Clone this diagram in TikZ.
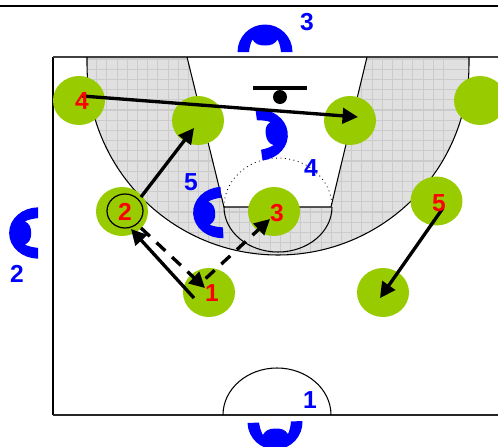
\documentclass[tikz,border=0pt]{standalone}
\usepackage{fontspec}
\setmainfont{Liberation Sans}
\usepackage{xcolor}
\usetikzlibrary{positioning, arrows.meta, shapes.geometric}
\definecolor{Player}{RGB}{153, 204, 0}
\definecolor{Defence}{RGB}{0, 0, 255}
\definecolor{Paint}{RGB}{224, 224, 224}
\definecolor{PaintGrid}{RGB}{203, 203, 203}
\tikzset{
    player/.style={ellipse, fill=Player, minimum width=1.04cm, minimum height=0.98cm, inner sep=0},
    redlabel/.style={text=red, inner sep=0, font=\fontsize{14}{15}\selectfont\bfseries},
    bluelabel/.style={text=Defence, inner sep=0, font=\fontsize{14}{15}\selectfont\bfseries},
    courtline/.style={line width=0.6pt},
    movearrow/.style={-{Triangle[length=8.8pt,width=8.8pt]}, line width=1.9pt},
    passarrow/.style={movearrow, dash pattern=on 6.9pt off 5.2pt},
    defender/.pic={
        \fill[Defence, y=0.02cm] (-27.5,0) arc[start angle=180, end angle=0, radius=27.5]
            -- (16,0) .. controls (15.5,5) and (14,10) .. (12.5,12.5)
            .. controls (10,8) and (6,6.5) .. (0,6.5)
            .. controls (-6,6.5) and (-10,8) .. (-12.5,12.5)
            .. controls (-14,10) and (-15.5,5) .. (-16,0) -- cycle;
    }
}

\begin{document}
\begin{tikzpicture}[x=0.02cm, y=-0.02cm]
        \useasboundingbox (0,0) rectangle (498,447);
        \clip (0,0) rectangle (498,447);
        \fill[white] (0,0) rectangle (498,447);

        % Painted area
        \begin{scope}
            \clip (87,57) -- (87,64) arc[start angle=180, end angle=0, radius=191] -- (469,57)
                -- (367,57) -- (331,207) -- (224,207) -- (187,57) -- cycle;
            \fill[Paint] (53,57) rectangle (498,300);
            \foreach \i in {0,...,36} {
                \draw[PaintGrid, line width=0.6pt] (76.3+10.2*\i,57) -- (76.3+10.2*\i,300);
            }
            \foreach \i in {0,...,19} {
                \draw[PaintGrid, line width=0.6pt] (53,59+10.2*\i) -- (498,59+10.2*\i);
            }
        \end{scope}

        % Court
        \draw[line width=1.2pt] (0,6) -- (498,6);
        \draw[courtline] (53,415) -- (53,57);
        \draw[line width=1pt, black!75] (53,57) -- (498,57);
        \draw[line width=0.9pt, black!85] (53,415) -- (498,415);
        \draw[courtline] (87,57) -- (87,64) arc[start angle=180, end angle=0, radius=191] -- (469,57);
        \draw[courtline] (187,57) -- (224,207) -- (331,207) -- (367,57);
        \draw[courtline] (224,207) arc[start angle=180, end angle=0, x radius=54, y radius=45];
        \draw[line width=0.5pt, dotted] (224,207) arc[start angle=180, end angle=360, x radius=54, y radius=49];
        \draw[courtline] (223,415) arc[start angle=180, end angle=360, x radius=54, y radius=47];

        % Basket
        \draw[line width=2.8pt] (253,88) -- (307,88);
        \fill (280,97) circle[radius=7];

        % Players
        \node[player] (corner4) at (79,100.5) {};
        \node[player] (post4) at (198,120.5) {};
        \node[player] (post5) at (350,120.5) {};
        \node[player] (corner5) at (480,100.5) {};
        \node[player] (wing2) at (122,211.5) {};
        \node[player] (high3) at (274,211.5) {};
        \node[player] (wing5) at (436.5,201) {};
        \node[player] (point1) at (209,292.5) {};
        \node[player] (point5) at (383,292.5) {};

        % Defenders
        \pic[rotate=182] at (275,422) {defender};
        \pic[xscale=1.05, yscale=0.93, rotate=90] at (38,233) {defender};
        \pic at (265,52) {defender};
        \pic[xscale=1.05, yscale=0.93, rotate=-83] at (259,135) {defender};
        \pic[xscale=1.05, yscale=0.93, rotate=93] at (222,212.5) {defender};

        % Ends of the moves
        \coordinate (start4) at (82,96);
        \coordinate (end4) at (358,117);
        \coordinate (start2) at (141,197);
        \coordinate (end2) at (194,128);
        \coordinate (start1) at (194,298);
        \coordinate (end1) at (131,229);
        \coordinate (pass1) at (141,228);
        \coordinate (pass2) at (205,288);
        \coordinate (pass3) at (205.7,278.5);
        \coordinate (pass4) at (270,219);
        \coordinate (start5) at (443,208);
        \coordinate (end5) at (380,298);

        % Arrows
        \draw[movearrow] (start4) -- (end4);
        \draw[movearrow] (start2) -- (end2);
        \draw[movearrow] (start1) -- (end1);
        \draw[passarrow] (pass1) -- (pass2);
        \draw[passarrow] (pass3) -- (pass4);
        \draw[movearrow] (start5) -- (end5);

        % Ball holder
        \node[ellipse, draw, line width=0.7pt, minimum width=0.72cm, minimum height=0.68cm, inner sep=0] (holder) at (125,211) {};

        % Numbers
        \node[redlabel] (num4) at (82,101) {4};
        \node[redlabel] (num2) at (125,212) {2};
        \node[redlabel] (num3) at (277,213) {3};
        \node[redlabel] (num1) at (212,293) {1};
        \node[redlabel] (num5) at (439,203) {5};
        \node[bluelabel] (def3) at (307,22) {3};
        \node[bluelabel] (def2) at (17,274) {2};
        \node[bluelabel] (def1) at (310,400) {1};
        \node[bluelabel] (def4) at (311,168) {4};
        \node[bluelabel] (def5) at (191,182) {5};
\end{tikzpicture}
\end{document}
